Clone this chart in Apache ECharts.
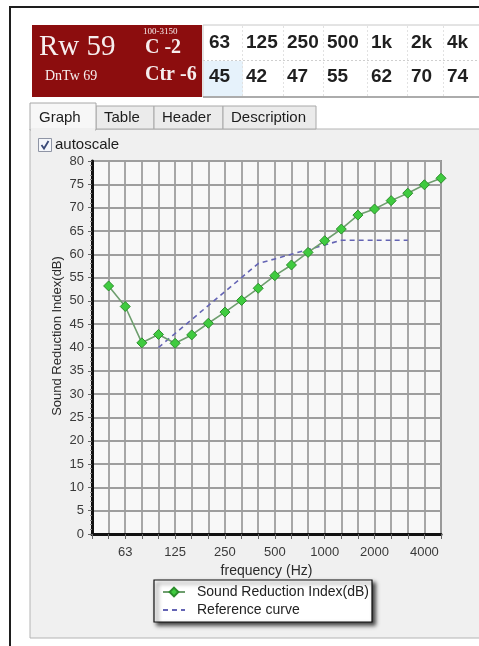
<!DOCTYPE html>
<html>
<head>
<meta charset="utf-8">
<script src="https://cdn.jsdelivr.net/npm/echarts@6/dist/echarts.min.js"></script>
<style>
  html, body { margin: 0; padding: 0; background: #ffffff; }
  #chart { width: 479px; height: 646px; }
</style>
</head>
<body>
<div id="chart"></div>
<script>
// One-third octave bands on the frequency axis (Hz)
const bands = ['40', '50', '63', '80', '100', '125', '160', '200', '250', '315', '400', '500',
  '630', '800', '1000', '1250', '1600', '2000', '2500', '3150', '4000', '5000'];
// Bands that carry a tick label
const bandLabels = ['63', '125', '250', '500', '1000', '2000', '4000'];
// Measured sound reduction index per band (dB)
const measured = [null, 53.2, 48.8, 41.0, 42.8, 40.9, 42.7, 45.2, 47.6, 50.1, 52.7, 55.4,
  57.7, 60.4, 62.9, 65.4, 68.4, 69.7, 71.5, 73.1, 74.9, 76.3];
// Shifted reference curve, 100-3150 Hz (dB)
const reference = [null, null, null, null, 40, 43, 46, 49, 52, 55, 58, 59,
  60, 61, 62, 63, 63, 63, 63, 63, null, null];
// Octave band summary row
const octaveBands = ['63', '125', '250', '500', '1k', '2k', '4k'];
const octaveValues = [45, 42, 47, 55, 62, 70, 74];
// Single-number ratings
const ratingRw = 59;
const ratingC = -2;
const ratingCtr = -6;
const ratingDnTw = 69;
const ratingRange = '100-3150';
// Tab captions
const tabs = ['Graph', 'Table', 'Header', 'Description'];
const yTitle = 'Sound Reduction Index(dB)';

const UI_FONT = 'Arial, "Liberation Sans", sans-serif';
const SERIF = '"Liberation Serif", "DejaVu Serif", serif';

const chart = echarts.init(document.getElementById('chart'), null, { renderer: 'canvas' });

// ---------- window chrome drawn as graphic elements ----------
const g = [];
// tab panel background
g.push({ type: 'rect', z: -10, shape: { x: 30, y: 129, width: 460, height: 509 },
  style: { fill: '#f0f0f0', stroke: '#b4b4b4', lineWidth: 1 } });
// outer window frame
g.push({ type: 'polyline', z: 5, shape: { points: [[10, 646], [10, 7], [479, 7]] },
  style: { stroke: '#1e1e1e', lineWidth: 2, fill: null } });

// rating block
g.push({ type: 'rect', z: 1, shape: { x: 32, y: 25, width: 170, height: 72 },
  style: { fill: '#8c0d0e' } });
const ratingText = (text, x, y, font) => ({ type: 'text', z: 2,
  style: { text, x, y, font, fill: '#f6eeee', textVerticalAlign: 'middle' } });
g.push(ratingText('Rw ' + ratingRw, 39, 47, '29px ' + SERIF));
g.push(ratingText('DnTw ' + ratingDnTw, 45, 76, '14px ' + SERIF));
g.push(ratingText(ratingRange, 143, 32, '9px ' + SERIF));
g.push(ratingText('C ' + ratingC, 145, 48, 'bold 20px ' + SERIF));
g.push(ratingText('Ctr ' + ratingCtr, 145, 75, 'bold 20px ' + SERIF));

// octave summary table
g.push({ type: 'rect', z: 1, shape: { x: 203, y: 25, width: 280, height: 72 },
  style: { fill: '#ffffff', stroke: '#c8c8c8', lineWidth: 1 } });
g.push({ type: 'rect', z: 1, shape: { x: 204, y: 61, width: 39, height: 35 },
  style: { fill: '#e6f2fb' } });
g.push({ type: 'line', z: 2, shape: { x1: 203, y1: 60.5, x2: 479, y2: 60.5 },
  style: { stroke: '#cfcfcf', lineWidth: 1, lineDash: [2, 2] } });
g.push({ type: 'line', z: 2, shape: { x1: 203, y1: 97, x2: 479, y2: 97 },
  style: { stroke: '#9a9a9a', lineWidth: 1.5 } });
const colX = [209, 246, 287, 327, 371, 411, 447];
octaveBands.forEach((b, i) => {
  if (i > 0) {
    g.push({ type: 'line', z: 2, shape: { x1: colX[i] - 3.5, y1: 26, x2: colX[i] - 3.5, y2: 96 },
      style: { stroke: '#e2e2e2', lineWidth: 1, lineDash: [2, 2] } });
  }
  g.push({ type: 'text', z: 3, style: { text: b, x: colX[i], y: 43, font: 'bold 19px ' + UI_FONT,
    fill: '#1f1f1f', textVerticalAlign: 'middle' } });
  g.push({ type: 'text', z: 3, style: { text: String(octaveValues[i]), x: colX[i], y: 77,
    font: 'bold 19px ' + UI_FONT, fill: '#1f1f1f', textVerticalAlign: 'middle' } });
});

// tabs
const tabX = [30, 96, 154, 223, 316];
tabs.forEach((t, i) => {
  const sel = i === 0;
  const top = sel ? 103 : 106;
  g.push({ type: 'rect', z: sel ? 2 : 1,
    shape: { x: tabX[i], y: top, width: tabX[i + 1] - tabX[i], height: (sel ? 130 : 129) - top },
    style: { fill: sel ? '#f7f7f7' : '#ebebeb', stroke: '#a8a8a8', lineWidth: 1 } });
  g.push({ type: 'text', z: 3, style: { text: t, x: tabX[i] + (sel ? 9 : 8), y: 118,
    font: '15px ' + UI_FONT, fill: '#1c1c1c', textVerticalAlign: 'middle' } });
});
g.push({ type: 'rect', z: 3, shape: { x: 31, y: 128, width: 64, height: 3 }, style: { fill: '#f0f0f0' } });

// autoscale checkbox
g.push({ type: 'rect', z: 1, shape: { x: 38.5, y: 138.5, width: 13, height: 13 },
  style: { fill: '#f4f6fa', stroke: '#8f95a5', lineWidth: 1 } });
g.push({ type: 'polyline', z: 2, shape: { points: [[41.5, 145], [44, 148.5], [48.5, 141]] },
  style: { stroke: '#3a4a78', lineWidth: 1.8, fill: null } });
g.push({ type: 'text', z: 2, style: { text: 'autoscale', x: 55, y: 145, font: '15px ' + UI_FONT,
  fill: '#1c1c1c', textVerticalAlign: 'middle' } });

// vertical axis title
g.push({ type: 'text', z: 2, x: 57, y: 336, rotation: Math.PI / 2,
  style: { text: yTitle, x: 0, y: 0, font: '13px ' + UI_FONT, fill: '#2a2a2a',
    textAlign: 'center', textVerticalAlign: 'middle' } });

const option = {
  animation: false,
  backgroundColor: 'transparent',
  textStyle: { fontFamily: UI_FONT },
  graphic: g,
  grid: {
    left: 92, right: 38, top: 161, bottom: 112,
    show: true, backgroundColor: '#f8f8f8', borderColor: '#4a4a4a', borderWidth: 1.5
  },
  legend: {
    orient: 'vertical', left: 154, top: 580,
    backgroundColor: '#ffffff', borderColor: '#111', borderWidth: 1.2, borderRadius: 0,
    padding: [5, 3, 5, 8], itemGap: 4, itemWidth: 22, itemHeight: 11,
    shadowColor: 'rgba(0,0,0,0.75)', shadowBlur: 4, shadowOffsetX: 3, shadowOffsetY: 3,
    textStyle: { fontSize: 14, color: '#222', fontFamily: UI_FONT, padding: [0, 0, 0, 7] },
    data: [
      { name: 'Sound Reduction Index(dB)' },
      { name: 'Reference curve', itemStyle: { opacity: 0 } }
    ]
  },
  xAxis: {
    type: 'category', data: bands, boundaryGap: false,
    name: 'frequency (Hz)', nameLocation: 'middle', nameGap: 30,
    nameTextStyle: { fontSize: 14, color: '#2a2a2a' },
    axisLine: { lineStyle: { color: '#111', width: 3 } },
    axisTick: { show: true, interval: 0, length: 5, lineStyle: { color: '#666', width: 1 } },
    axisLabel: {
      interval: (idx, val) => bandLabels.includes(val),
      fontSize: 13, color: '#3a3a3a', margin: 12
    },
    splitLine: { show: true, interval: 0, lineStyle: { color: '#9e9e9e', width: 1.8 } }
  },
  yAxis: {
    type: 'value', min: 0, max: 80, interval: 5,
    axisLine: { show: true, lineStyle: { color: '#111', width: 3 } },
    axisTick: { show: true, length: 4, lineStyle: { color: '#666' } },
    minorTick: { show: true, splitNumber: 5, length: 2, lineStyle: { color: '#8a8a8a' } },
    axisLabel: { fontSize: 13, color: '#3a3a3a', margin: 8 },
    splitLine: { show: true, lineStyle: { color: '#9e9e9e', width: 1.8 } }
  },
  series: [
    {
      name: 'Sound Reduction Index(dB)', type: 'line', data: measured,
      symbol: 'diamond', symbolSize: 10, connectNulls: false, z: 4,
      lineStyle: { color: '#6e9e6e', width: 1.6 },
      itemStyle: { color: '#3fcb3f', borderColor: '#2b8e2b', borderWidth: 1 }
    },
    {
      name: 'Reference curve', type: 'line', data: reference,
      symbol: 'none', z: 3,
      lineStyle: { color: '#6464b4', width: 1.6, type: [5, 4] },
      itemStyle: { color: '#6464b4' }
    }
  ]
};

chart.setOption(option);
</script>
</body>
</html>
